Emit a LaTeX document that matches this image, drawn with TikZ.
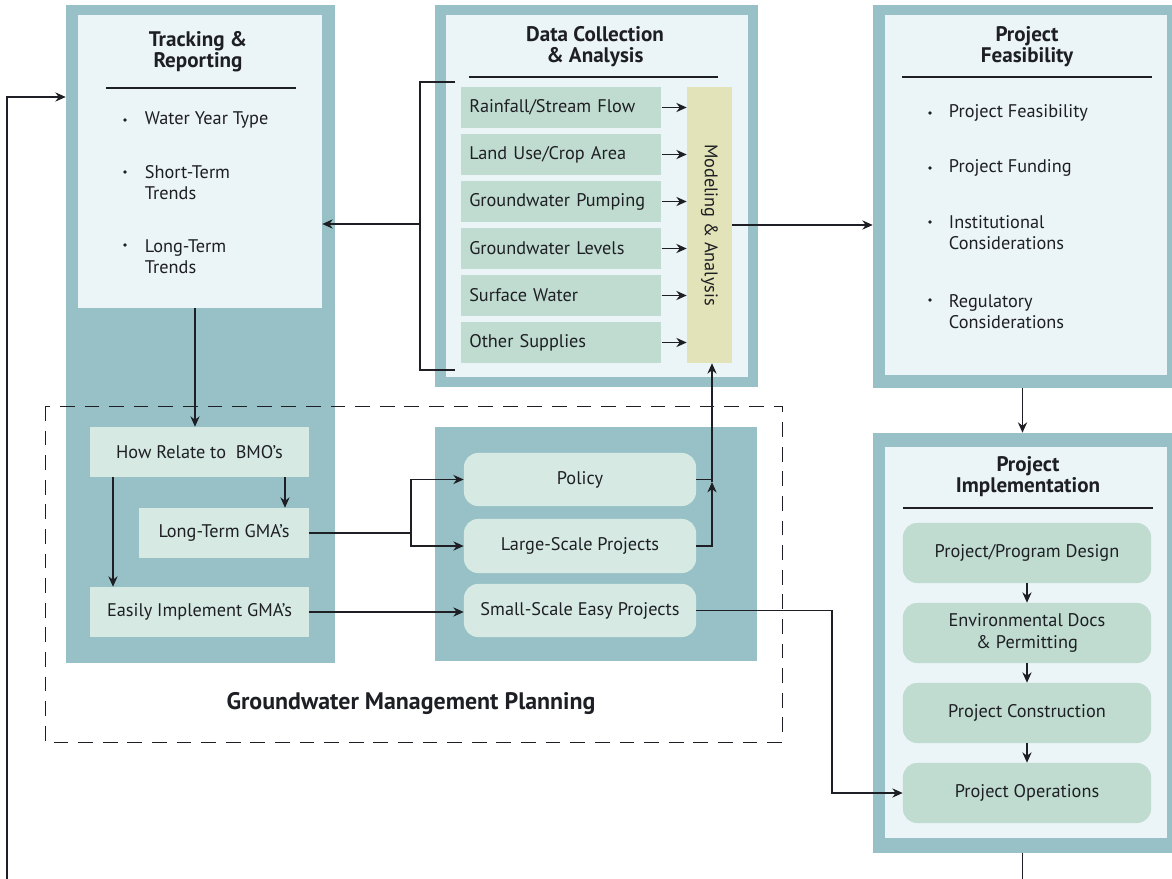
\documentclass[tikz,border=0pt]{standalone}
\usepackage{fontspec}
\setmainfont{PT Sans}
\usetikzlibrary{arrows.meta}
\usetikzlibrary{fit}
\usetikzlibrary{positioning}

\definecolor{gwteal}{HTML}{97C1C6}
\definecolor{gwpale}{HTML}{EBF4F6}
\definecolor{gwgreen}{HTML}{C0DCD0}
\definecolor{gwmint}{HTML}{D6EAE3}
\definecolor{gwsand}{HTML}{E2E3B8}
\definecolor{gwink}{HTML}{1E1F24}

\tikzset{
  outer/.style={fill=gwteal, inner sep=0pt},
  inner/.style={fill=gwpale, inner sep=0pt},
  title/.style={font=\bfseries\fontsize{15}{15}\selectfont, align=center, text=gwink},
  item/.style={anchor=west, align=left, font=\fontsize{13}{15}\selectfont, text=gwink},
  dot/.style={circle, fill=gwink, inner sep=0pt, minimum size=2.8pt},
  row/.style={fill=gwgreen, anchor=west, minimum width=5cm, minimum height=1.025cm,
    text width=4.6cm, inner xsep=0.2cm, align=left, font=\fontsize{13}{15}\selectfont, text=gwink},
  gma/.style={fill=gwmint, minimum height=1.25cm, font=\fontsize{13}{15}\selectfont, text=gwink},
  pick/.style={fill=gwmint, rounded corners=0.35cm, minimum width=5.8cm, font=\fontsize{13}{15}\selectfont, text=gwink},
  stepbox/.style={fill=gwgreen, rounded corners=0.35cm, minimum width=6.2cm, minimum height=1.5cm,
    align=center, font=\fontsize{13}{15}\selectfont, text=gwink},
  arr/.style={-{Stealth[length=2.6mm,width=2.3mm]}, line width=0.9pt, draw=gwink},
  link/.style={line width=0.9pt, draw=gwink},
}

\begin{document}
\begin{tikzpicture}[x=0.025cm, y=-0.025cm]
  \useasboundingbox (0,0) rectangle (1172,879);

  % tracking & reporting column
  \node [outer, fit={(66,5) (335,663)}] (trkbg) {};
  \node [inner, fit={(78,15) (322,308)}] (trk) {};
  \node [title] (trkt) at (198,52) {Tracking \&\\Reporting};
  \draw [link] (106,88) -- (296,88);
  \foreach \yb/\yt/\t in {120/120/Water Year Type, 172/182.5/{Short-Term\\Trends}, 245/256.5/{Long-Term\\Trends}}{
    \node [dot] at (125,\yb) {};
    \node [item] at (140,\yt) {\t};
  }

  % data collection & analysis
  \node [outer, fit={(435,5) (758,387)}] (datbg) {};
  \node [inner, fit={(446,15) (748,377)}] (dat) {};
  \node [title] (datt) at (595,47) {Data Collection\\\& Analysis};
  \draw [link] (469,77) -- (718,77);
  \node [fill=gwsand, inner sep=0pt, fit={(687,87) (732,363)}] (mod) {};
  \node [rotate=-90, font=\fontsize{13}{15}\selectfont, text=gwink] (modt) at (mod.center) {Modeling \& Analysis};
  \foreach \n/\y/\t in {1/107.5/{Rainfall/Stream Flow}, 2/154.5/{Land Use/Crop Area}, 3/201.5/Groundwater Pumping,
      4/248.5/Groundwater Levels, 5/295.5/Surface Water, 6/342.5/Other Supplies}{
    \node [row] (r\n) at (461,\y) {\t};
    \draw [arr] (r\n.east) -- (r\n.east -| mod.west);
  }

  % project feasibility
  \node [outer, fit={(873,5) (1172,388)}] (feabg) {};
  \node [inner, fit={(885,15) (1167,375)}] (fea) {};
  \node [title] (feat) at (1027,47) {Project\\Feasibility};
  \draw [link] (902,77) -- (1152,77);
  \foreach \yb/\yt/\t in {113/113/Project Feasibility, 168/168/Project Funding, 222/233/{Institutional\\Considerations},
      300/311.5/{Regulatory\\Considerations}}{
    \node [dot] at (930,\yb) {};
    \node [item] at (944,\yt) {\t};
  }

  % project implementation
  \node [outer, fit={(873,433) (1172,853)}] (impbg) {};
  \node [inner, fit={(885,447) (1167,838)}] (imp) {};
  \node [title] (impt) at (1028,477) {Project\\Implementation};
  \draw [link] (903,508) -- (1153,508);
  \node [stepbox] (s1) at (1027,553) {Project/Program Design};
  \node [stepbox] (s2) at (1027,633) {Environmental Docs\\\& Permitting};
  \node [stepbox] (s3) at (1027,713) {Project Construction};
  \node [stepbox] (s4) at (1027,793) {Project Operations};
  \foreach \a/\b in {s1/s2, s2/s3, s3/s4}
    \draw [arr] (\a.south) -- (\b.north);

  % groundwater management planning
  \node [outer, fit={(435,427) (757,661)}] (optbg) {};
  \draw [line width=0.7pt, dash pattern=on 10.5pt off 7pt, draw=gwink] (45,406) rectangle (782,742);
  \node [font=\bfseries\fontsize{17}{19}\selectfont, text=gwink] (gmpt) at (411,703) {Groundwater Management Planning};

  \node [gma, minimum width=5.475cm] (how) at (199.5,452) {How Relate to~~BMO's};
  \node [gma, minimum width=4.25cm] (lt) at (224,533) {Long-Term GMA's};
  \node [gma, minimum width=5.475cm] (easy) at (199.5,612) {Easily Implement GMA's};

  \node [pick, minimum height=1.325cm] (pol) at (580,479.5) {Policy};
  \node [pick, minimum height=1.35cm] (lrg) at (580,546) {Large-Scale Projects};
  \node [pick, minimum height=1.325cm] (sml) at (580,610.5) {Small-Scale Easy Projects};

  % connectors
  \coordinate (brk) at (420,224);
  \draw [link] (455,82) -- (420,82) -- (420,370) -- (455,370);
  \draw [arr] (brk) -- (trk.east |- brk);
  \draw [arr] (mod.east) -- (mod.east -| feabg.west);
  \draw [arr] (feabg.south) -- (impbg.north);

  \draw [arr] (trk.south -| 195,0) -- (how.north -| 195,0);
  \draw [arr] (how.south -| 285,0) -- (lt.north -| 285,0);
  \draw [arr] (how.south -| 113,0) -- (easy.north -| 113,0);

  \coordinate (fork) at (411,533);
  \draw [link] (lt.east) -- (fork);
  \draw [arr] (fork) |- (pol.west);
  \draw [arr] (fork) |- (lrg.west);
  \draw [arr] (easy.east) -- (easy.east -| sml.west);

  \coordinate (join) at (712,482);
  \draw [link] (pol.east) -- (pol.east -| join);
  \draw [arr] (lrg.east) -| (join);
  \draw [arr] (join) -- (join |- mod.south);

  \coordinate (bend) at (832,0);
  \draw [arr] (sml.east) -- (sml.east -| bend) |- (s4.west);

  % feedback loop, runs off the bottom edge
  \coordinate (loop) at (7,930);
  \draw [arr] (impbg.south) |- (loop) |- (trkbg.west |- 0,97);
\end{tikzpicture}
\end{document}
